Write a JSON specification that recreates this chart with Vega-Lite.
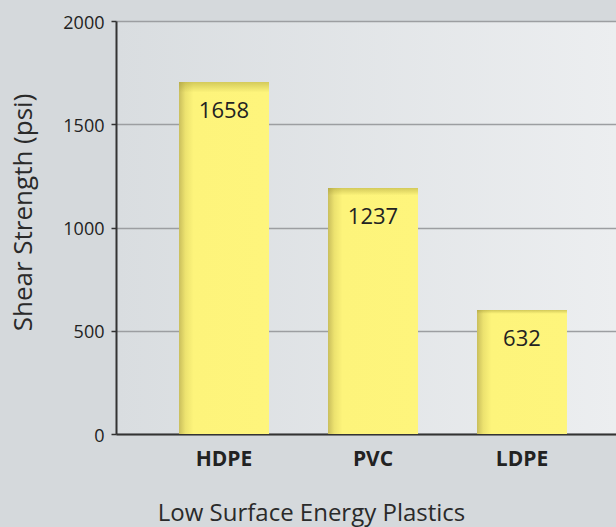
{
  "$schema": "https://vega.github.io/schema/vega-lite/v6.json",
  "width": 500,
  "height": 413,
  "autosize": {"type": "none"},
  "padding": {"left": 116, "top": 21, "right": 0, "bottom": 93},
  "background": "#d5d9dc",
  "config": {
    "font": "Open Sans",
    "view": {
      "stroke": null,
      "fill": {"gradient": "linear", "x1": 0, "y1": 0, "x2": 1, "y2": 0, "stops": [{"offset": 0, "color": "#d9dde0"}, {"offset": 1, "color": "#eceef0"}]}
    }
  },
  "data": {
    "values": [
      {"plastic": "HDPE", "strength": 1705, "label": "1658"},
      {"plastic": "PVC", "strength": 1191, "label": "1237"},
      {"plastic": "LDPE", "strength": 600, "label": "632"}
    ]
  },
  "encoding": {
    "x": {
      "field": "plastic",
      "type": "nominal",
      "sort": null,
      "scale": {"paddingInner": 0.396, "paddingOuter": 0.376, "align": 0.5625},
      "axis": {
        "title": "Low Surface Energy Plastics",
        "titleFont": "Open Sans",
        "titleFontSize": 24,
        "titleFontWeight": "normal",
        "titleColor": "#2a2a2a",
        "titlePadding": 32,
        "titleX": 195,
        "labelFont": "Open Sans",
        "labelFontSize": 21,
        "labelFontWeight": "bold",
        "labelColor": "#222222",
        "labelAngle": 0,
        "labelPadding": 14,
        "ticks": false,
        "domainColor": "#333333",
        "domainWidth": 2,
        "grid": false
      }
    },
    "y": {
      "field": "strength",
      "type": "quantitative",
      "scale": {"domain": [0, 2000]},
      "axis": {
        "values": [0, 500, 1000, 1500, 2000],
        "format": "d",
        "title": "Shear Strength (psi)",
        "titleFont": "Open Sans",
        "titleFontSize": 26,
        "titleFontWeight": "normal",
        "titleColor": "#2a2a2a",
        "titlePadding": 26,
        "titleY": 191,
        "labelFont": "Open Sans",
        "labelFontSize": 18,
        "labelColor": "#222222",
        "labelPadding": 7,
        "labelOffset": 2,
        "tickSize": 5,
        "tickColor": "#333333",
        "tickWidth": 1.5,
        "domainColor": "#333333",
        "domainWidth": 2,
        "grid": true,
        "gridColor": "#9c9ea1",
        "gridWidth": 1.5
      }
    }
  },
  "layer": [
    {
      "mark": {
        "type": "bar",
        "fill": {"gradient": "linear", "x1": 0, "y1": 0, "x2": 1, "y2": 0, "stops": [{"offset": 0, "color": "#c9be5c"}, {"offset": 0.07, "color": "#ece26f"}, {"offset": 0.16, "color": "#fdf47b"}, {"offset": 1, "color": "#fef57c"}]}
      }
    },
    {
      "mark": {
        "type": "bar",
        "fill": {"gradient": "linear", "x1": 0, "y1": 0, "x2": 0, "y2": 1, "stops": [{"offset": 0, "color": "rgba(160,150,50,0.45)"}, {"offset": 0.03, "color": "rgba(160,150,50,0.0)"}, {"offset": 1, "color": "rgba(160,150,50,0.0)"}]}
      }
    },
    {
      "mark": {"type": "text", "baseline": "top", "dy": 19, "fontSize": 22, "font": "Open Sans", "color": "#222222"},
      "encoding": {"text": {"field": "label"}}
    }
  ]
}
